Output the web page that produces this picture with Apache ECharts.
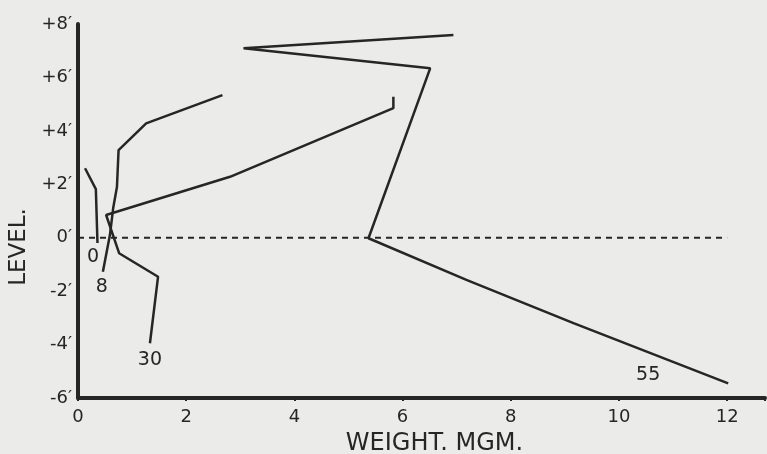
<!DOCTYPE html>
<html><head><meta charset="utf-8">
<script src="https://cdn.jsdelivr.net/npm/echarts@6/dist/echarts.min.js"></script>
<style>html,body{margin:0;padding:0;background:#ebebe9}#c{width:767px;height:454px}</style>
</head><body><div id="c"></div>
<script>
// Series values (weight mgm, level ft)
const s0X = [0.13, 0.33, 0.36];
const s0Y = [2.6, 1.82, -0.2];
const s8X = [0.46, 0.59, 0.65, 0.72, 0.75, 1.26, 2.67];
const s8Y = [-1.27, 0.1, 1.1, 1.9, 3.28, 4.28, 5.34];
const s30X = [1.33, 1.48, 0.76, 0.52, 2.81, 5.83, 5.83];
const s30Y = [-3.95, -1.46, -0.58, 0.85, 2.28, 4.85, 5.28];
const s55X = [6.94, 3.06, 6.51, 5.37, 7.18, 9.16, 12.02];
const s55Y = [7.59, 7.09, 6.34, -0.02, -1.58, -3.2, -5.45];
const zeroX = [0, 12];
const zeroY = [0, 0];
const labelText = ['0', '8', '30', '55'];
const labelX = [0.28, 0.44, 1.33, 10.54];
const labelY = [-0.72, -1.84, -4.58, -5.14];
const xTicks = [0, 2, 4, 6, 8, 10, 12];
const yTickLabels = {'8':'+8′','6':'+6′','4':'+4′','2':'+2′','0':'0′','-2':'-2′','-4':'-4′','-6':'-6′'};

const zip = (xs, ys) => xs.map((x, i) => [x, ys[i]]);
const ink = '#262626';
const font = 'DejaVu Sans';
const lineStyle = {color: ink, width: 2.5};
const mk = (name, xs, ys) => ({name, type: 'line', data: zip(xs, ys), symbol: 'none', lineStyle, z: 3, animation: false});

const chart = echarts.init(document.getElementById('c'));
chart.setOption({
  backgroundColor: '#ebebe9',
  animation: false,
  grid: {left: 78, right: 2, top: 24, bottom: 56, containLabel: false, outerBoundsMode: 'none'},
  xAxis: {
    type: 'value', min: 0, max: 12.7, interval: 2,
    splitLine: {show: false},
    axisLine: {show: true, onZero: false, lineStyle: {color: ink, width: 4}},
    axisTick: {show: true, length: 3, lineStyle: {color: ink, width: 2}},
    axisLabel: {color: ink, fontFamily: font, fontSize: 18, margin: 10,
      formatter: v => xTicks.includes(v) ? String(v) : ''},
    name: 'WEIGHT. MGM.', nameLocation: 'middle', nameGap: 34,
    nameTextStyle: {color: ink, fontFamily: font, fontSize: 24, padding: [0, 0, 0, 26]}
  },
  yAxis: {
    type: 'value', min: -6, max: 8, interval: 2,
    splitLine: {show: false},
    axisLine: {show: true, onZero: false, lineStyle: {color: ink, width: 4}},
    axisTick: {show: false},
    axisLabel: {color: ink, fontFamily: font, fontSize: 18, margin: 6,
      formatter: v => yTickLabels[String(v)] || ''},
    name: 'LEVEL.', nameLocation: 'middle', nameGap: 44, nameRotate: 90,
    nameTextStyle: {color: ink, fontFamily: font, fontSize: 23, padding: [0, 0, 0, -72]}
  },
  series: [
    {type: 'line', data: zip(zeroX, zeroY), symbol: 'none', lineStyle: {color: ink, width: 2, type: [6, 5]}, z: 2},
    mk('0', s0X, s0Y),
    mk('8', s8X, s8Y),
    mk('30', s30X, s30Y),
    mk('55', s55X, s55Y),
    {type: 'scatter', symbolSize: 1, z: 4, itemStyle: {opacity: 0},
      data: labelText.map((t, i) => ({value: [labelX[i], labelY[i]], name: t})),
      label: {show: true, position: 'inside', formatter: p => p.name, color: ink, opacity: 1,
        fontFamily: font, fontSize: 19, textBorderWidth: 0}}
  ]
});
</script></body></html>
